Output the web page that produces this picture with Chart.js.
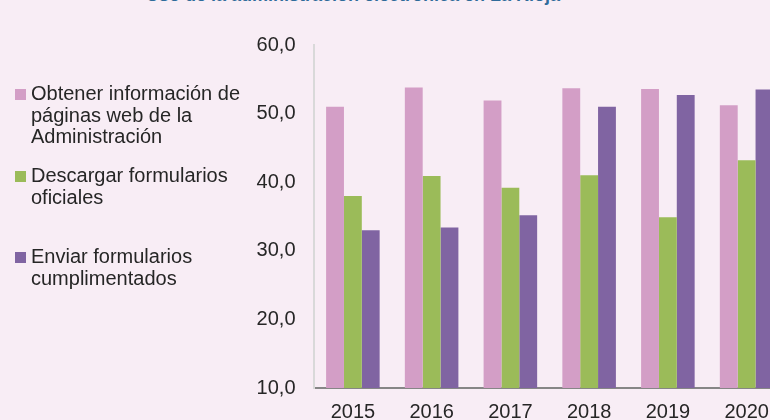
<!DOCTYPE html>
<html>
<head>
<meta charset="utf-8">
<script src="https://cdn.jsdelivr.net/npm/chart.js@4/dist/chart.umd.min.js"></script>
<style>
  html, body { margin: 0; padding: 0; width: 770px; height: 420px; overflow: hidden; background: #f8edf5; }
  body { position: relative; font-family: "Liberation Sans", Arial, sans-serif; color: #262626; }
  #title { position: absolute; left: 0; width: 706px; top: -14px; text-align: center; font-weight: bold; font-size: 18px; line-height: 18px; color: #2f6b9a; white-space: nowrap; }
  #wrap { position: absolute; left: 0; top: 0; width: 786px; height: 420px; }
  #legend { position: absolute; left: 0; top: 0; }
  .item { position: absolute; left: 15px; }
  .item .box { position: absolute; left: 0; top: 6px; width: 11px; height: 11px; }
  .item .txt { position: absolute; left: 16px; width: 212px; font-size: 20px; line-height: 21.7px; }
</style>
</head>
<body>
<div id="title">Uso de la administración electrónica en La Rioja</div>
<div id="wrap"><canvas id="chart"></canvas></div>
<div id="legend"></div>
<script>
/* Uso de la administración electrónica en La Rioja — grouped bars */

const years = ['2015', '2016', '2017', '2018', '2019', '2020'];
const seriesNames = [
  'Obtener información de páginas web de la Administración',
  'Descargar formularios oficiales',
  'Enviar formularios cumplimentados',
];
const obtenerInfo = [51.0, 53.8, 51.9, 53.7, 53.6, 51.2];
const descargarForm = [38.0, 40.9, 39.2, 41.0, 34.9, 43.2];
const enviarForm = [33.0, 33.4, 35.2, 51.0, 52.7, 53.5];
const yTicks = [10, 20, 30, 40, 50, 60];

const COLORS = ['#d39ec6', '#9bbb59', '#8064a2'];
const LEGEND_TOPS = [83, 165, 246];
const FONT = { family: '"Liberation Sans", Arial, sans-serif', size: 20 };

const fmt = v => v.toFixed(1).replace('.', ',');

/* ── HTML legend on the left ─────────────────────────────────────── */
const legend = document.getElementById('legend');
seriesNames.forEach((name, i) => {
  const item = document.createElement('div');
  item.className = 'item';
  item.style.top = LEGEND_TOPS[i] + 'px';
  item.innerHTML = `<div class="box" style="background:${COLORS[i]}"></div><div class="txt">${name}</div>`;
  legend.appendChild(item);
});

/* ── Chart ───────────────────────────────────────────────────────── */
const ctx = document.getElementById('chart').getContext('2d');
new Chart(ctx, {
  type: 'bar',
  data: {
    labels: years,
    datasets: [obtenerInfo, descargarForm, enviarForm].map((data, i) => ({
      label: seriesNames[i],
      data,
      backgroundColor: COLORS[i],
      borderWidth: 0,
      categoryPercentage: 0.68,
      barPercentage: 1,
    })),
  },
  options: {
    responsive: true,
    maintainAspectRatio: false,
    animation: false,
    layout: { padding: { left: 0, top: 45, right: 0, bottom: 0 } },
    plugins: {
      legend: { display: false },
      tooltip: { enabled: false },
    },
    scales: {
      x: {
        grid: { display: false, drawTicks: false },
        border: { display: true, color: '#868686', width: 2 },
        ticks: { color: '#262626', font: FONT, padding: 12, maxRotation: 0 },
        afterFit: s => { s.height = 32; },
      },
      y: {
        min: yTicks[0],
        max: yTicks[yTicks.length - 1],
        afterBuildTicks: s => { s.ticks = yTicks.map(v => ({ value: v })); },
        grid: { display: false, drawTicks: false },
        border: { display: true, color: '#d9d9d9', width: 2 },
        ticks: { color: '#262626', font: FONT, padding: 18, callback: v => fmt(v) },
        afterFit: s => { s.width = 313.5; },
      },
    },
  },
});
</script>
</body>
</html>
